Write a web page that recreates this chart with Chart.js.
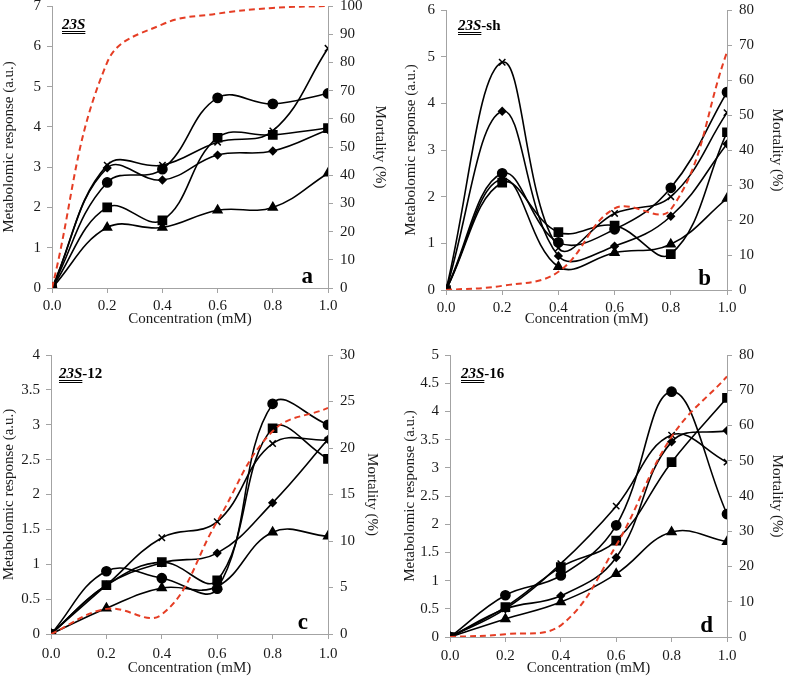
<!DOCTYPE html>
<html>
<head>
<meta charset="utf-8">
<script src="https://cdn.jsdelivr.net/npm/chart.js@4.4.1/dist/chart.umd.min.js"></script>
<style>
  html, body { margin: 0; padding: 0; background: #fff; }
  body { width: 786px; height: 679px; position: relative; overflow: hidden; }
  .panel { position: absolute; }
</style>
</head>
<body>
<div class="panel" style="left:0;top:-14px;width:393px;height:342px"><canvas id="chartA"></canvas></div>
<div class="panel" style="left:393px;top:-10px;width:393px;height:338px"><canvas id="chartB"></canvas></div>
<div class="panel" style="left:0;top:335px;width:393px;height:342px"><canvas id="chartC"></canvas></div>
<div class="panel" style="left:393px;top:335px;width:393px;height:342px"><canvas id="chartD"></canvas></div>
<script>
const conc = [0, 0.2, 0.4, 0.6, 0.8, 1.0];
const xTickLabels = ['0.0', '0.2', '0.4', '0.6', '0.8', '1.0'];

// panel a - 23S
const aCross    = [0, 3.05, 3.05, 3.62, 3.90, 5.95];
const aCircle   = [0, 2.62, 2.95, 4.72, 4.57, 4.83];
const aSquare   = [0, 2.00, 1.68, 3.73, 3.80, 3.97];
const aDiamond  = [0, 2.98, 2.68, 3.30, 3.40, 3.93];
const aTriangle = [0, 1.50, 1.50, 1.93, 2.00, 2.85];
const aMortality = [0, 80, 93.5, 97.3, 99.3, 100];
const aLeftTicks  = ['0', '1', '2', '3', '4', '5', '6', '7'];
const aRightTicks = ['0', '10', '20', '30', '40', '50', '60', '70', '80', '90', '100'];

// panel b - 23S-sh
const bCross    = [0, 4.88, 0.90, 1.64, 2.00, 3.80];
const bCircle   = [0, 2.50, 1.02, 1.30, 2.19, 4.24];
const bSquare   = [0, 2.30, 1.24, 1.38, 0.77, 3.38];
const bDiamond  = [0, 3.83, 0.73, 0.94, 1.58, 3.13];
const bTriangle = [0, 2.38, 0.50, 0.80, 0.98, 1.96];
const bMortality = [0, 1.2, 5.2, 23.3, 23, 68];
const bLeftTicks  = ['0', '1', '2', '3', '4', '5', '6'];
const bRightTicks = ['0', '10', '20', '30', '40', '50', '60', '70', '80'];

// panel c - 23S-12
const cCross    = [0, 0.70, 1.38, 1.61, 2.73, 2.78];
const cCircle   = [0, 0.90, 0.80, 0.65, 3.30, 3.00];
const cSquare   = [0, 0.70, 1.03, 0.77, 2.95, 2.51];
const cDiamond  = [0, 0.70, 1.02, 1.16, 1.88, 2.79];
const cTriangle = [0, 0.37, 0.66, 0.68, 1.46, 1.40];
const cMortality = [0, 2.7, 2.1, 12.1, 21.8, 24.3];
const cLeftTicks  = ['0', '0.5', '1', '1.5', '2', '2.5', '3', '3.5', '4'];
const cRightTicks = ['0', '5', '10', '15', '20', '25', '30'];

// panel d - 23S-16
const dCross    = [0, 0.50, 1.30, 2.32, 3.58, 3.10];
const dCircle   = [0, 0.74, 1.09, 1.98, 4.35, 2.18];
const dSquare   = [0, 0.53, 1.24, 1.71, 3.10, 4.24];
const dDiamond  = [0, 0.50, 0.73, 1.41, 3.46, 3.66];
const dTriangle = [0, 0.32, 0.62, 1.12, 1.86, 1.69];
const dMortality = [0, 0.8, 3.3, 26, 56.8, 73.9];
const dLeftTicks  = ['0', '0.5', '1', '1.5', '2', '2.5', '3', '3.5', '4', '4.5', '5'];
const dRightTicks = ['0', '10', '20', '30', '40', '50', '60', '70', '80'];

const FONT = "'Liberation Serif', 'Times New Roman', serif";
const AXIS_GREY = '#a3a3a3';
const TEXT = '#1a1a1a';

const markers = [
  { style: 'crossRot', radius: 4.5 },
  { style: 'circle', radius: 4.6 },
  { style: 'rect', radius: 5.8 },
  { style: 'rectRot', radius: 3.6 },
  { style: 'triangle', radius: 5 }
];

const toXY = vals => conc.map((c, i) => ({ x: c, y: vals[i] }));

// draws the panel name and the big panel letter
const labelPlugin = {
  id: 'panelLabels',
  afterDraw(chart, args, opts) {
    const { ctx, chartArea } = chart;
    ctx.save();
    ctx.fillStyle = '#000';
    ctx.textBaseline = 'alphabetic';
    ctx.textAlign = 'left';
    let x = Math.round(chartArea.left + opts.nameDx);
    const y = Math.round(chartArea.top + opts.nameDy);
    ctx.font = `italic bold 15px ${FONT}`;
    const w = ctx.measureText('23S').width;
    ctx.fillText('23S', x, y);
    ctx.fillRect(x, y + 2, w, 1);
    ctx.fillRect(x, y + 4, w, 1);
    x += w;
    if (opts.suffix) {
      ctx.font = `bold 15px ${FONT}`;
      ctx.fillText(opts.suffix, x, y);
    }
    ctx.font = `bold 23px ${FONT}`;
    ctx.textAlign = 'right';
    ctx.fillText(opts.letter, chartArea.right - opts.letterDx, chartArea.bottom - 5);
    ctx.restore();
  }
};

function valueAxis(position, labels, width, titleText, titlePad, tickPad) {
  return {
    position,
    min: +labels[0],
    max: +labels[labels.length - 1],
    afterBuildTicks: s => { s.ticks = labels.map(l => ({ value: +l })); },
    afterFit: s => { s.width = width; },
    border: { color: AXIS_GREY, width: 1 },
    grid: { drawOnChartArea: false, drawTicks: true, tickLength: 5, color: AXIS_GREY },
    ticks: {
      padding: tickPad,
      autoSkip: false,
      color: TEXT,
      font: { family: FONT, size: 15 },
      callback: (v, i) => labels[i]
    },
    title: {
      display: true,
      text: titleText,
      color: TEXT,
      font: { family: FONT, size: 15 },
      padding: { top: titlePad, bottom: 0 }
    }
  };
}

function makeChart(id, series, mortality, leftTicks, rightTicks, p) {
  const datasets = [{
    data: toXY(mortality),
    yAxisID: 'y2',
    borderColor: '#e53d24',
    borderWidth: 2,
    borderDash: [6, 4],
    pointRadius: 0,
    tension: 0.4,
    fill: false
  }];
  series.forEach((vals, k) => {
    datasets.push({
      data: toXY(vals),
      yAxisID: 'y',
      borderColor: '#000',
      borderWidth: 1.6,
      tension: 0.4,
      fill: false,
      pointStyle: markers[k].style,
      pointRadius: markers[k].radius,
      pointBackgroundColor: '#000',
      pointBorderColor: '#000',
      pointBorderWidth: 1.5
    });
  });

  new Chart(document.getElementById(id), {
    type: 'line',
    data: { datasets },
    plugins: [labelPlugin],
    options: {
      responsive: true,
      maintainAspectRatio: false,
      animation: false,
      layout: { padding: { top: 20, left: 0, right: 0, bottom: 0 } },
      plugins: {
        legend: { display: false },
        tooltip: { enabled: false },
        panelLabels: p.labels
      },
      scales: {
        x: {
          type: 'linear',
          min: 0,
          max: 1,
          afterBuildTicks: s => { s.ticks = conc.map(v => ({ value: v })); },
          afterFit: s => { s.height = p.bottom; },
          border: { color: AXIS_GREY, width: 1 },
          grid: { drawOnChartArea: false, drawTicks: true, tickLength: 5, color: AXIS_GREY },
          ticks: {
            padding: p.xPad,
            color: TEXT,
            font: { family: FONT, size: 15 },
            maxRotation: 0,
            autoSkip: false,
            callback: (v, i) => xTickLabels[i]
          },
          title: {
            display: true,
            text: 'Concentration (mM)',
            color: TEXT,
            font: { family: FONT, size: 15 },
            padding: { top: 0, bottom: 0 }
          }
        },
        y: valueAxis('left', leftTicks, p.left, 'Metabolomic response (a.u.)', p.leftTitlePad, 6),
        y2: valueAxis('right', rightTicks, p.right, 'Mortality (%)', p.rightTitlePad, 7)
      }
    }
  });
}

makeChart('chartA', [aCross, aCircle, aSquare, aDiamond, aTriangle], aMortality, aLeftTicks, aRightTicks, {
  left: 52, right: 65, bottom: 40, xPad: 4,
  leftTitlePad: 0, rightTitlePad: 4,
  labels: { nameDx: 10, nameDy: 23, suffix: '', letter: 'a', letterDx: 15 }
});

makeChart('chartB', [bCross, bCircle, bSquare, bDiamond, bTriangle], bMortality, bLeftTicks, bRightTicks, {
  left: 53, right: 59, bottom: 38, xPad: 4,
  leftTitlePad: 9, rightTitlePad: 0,
  labels: { nameDx: 12, nameDy: 20, suffix: '-sh', letter: 'b', letterDx: 16 }
});

makeChart('chartC', [cCross, cCircle, cSquare, cDiamond, cTriangle], cMortality, cLeftTicks, cRightTicks, {
  left: 51, right: 65, bottom: 43, xPad: 6,
  leftTitlePad: 0, rightTitlePad: 12,
  labels: { nameDx: 8, nameDy: 23, suffix: '-12', letter: 'c', letterDx: 20 }
});

makeChart('chartD', [dCross, dCircle, dSquare, dDiamond, dTriangle], dMortality, dLeftTicks, dRightTicks, {
  left: 57, right: 59, bottom: 40, xPad: 5,
  leftTitlePad: 8, rightTitlePad: 0,
  labels: { nameDx: 11, nameDy: 23, suffix: '-16', letter: 'd', letterDx: 14 }
});
</script>
</body>
</html>
